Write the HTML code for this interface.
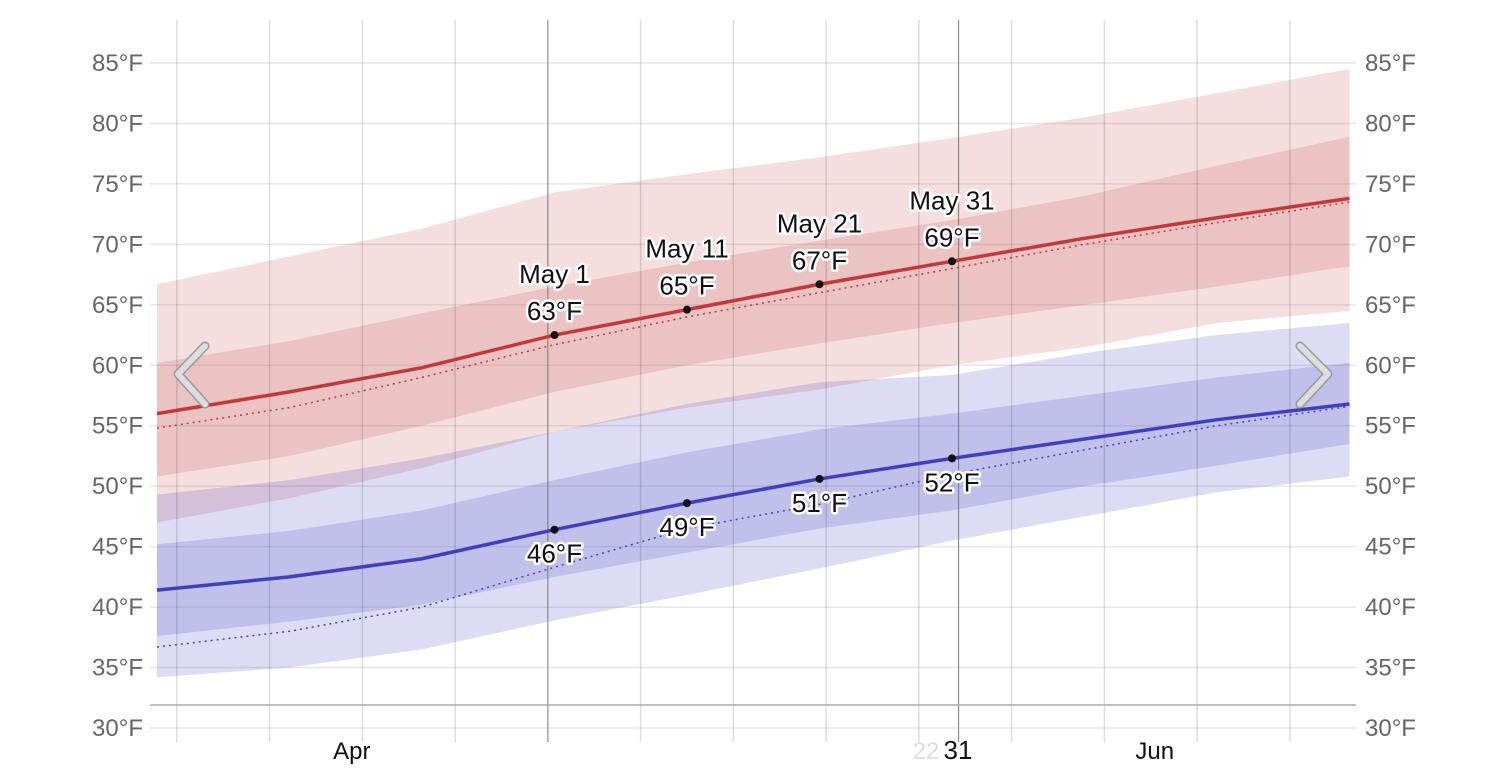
<!DOCTYPE html>
<html><head><meta charset="utf-8"><style>
html,body{margin:0;padding:0;background:#fff;}
svg{display:block;font-family:"Liberation Sans",sans-serif;}
.yl{font-size:24px;fill:#666;}
.ann{font-size:26px;fill:#111;stroke:#fff;stroke-width:5px;paint-order:stroke;stroke-linejoin:round;}
</style></head><body>
<svg id="chart" width="1506" height="774"></svg>
<script>
const days = [0,10,20,30,40,50,60,70,80,90];
const highAvg = [56,57.8,59.8,62.5,64.6,66.7,68.6,70.5,72.2,73.8];
const highP75 = [60.2,62,64.3,66.5,68.5,70.3,72,74,76.5,78.9];
const highP25 = [50.8,52.5,55,57.8,60,61.8,63.5,65,66.5,68.2];
const highP90 = [66.7,69,71.3,74.3,75.8,77.2,78.8,80.5,82.5,84.5];
const highP10 = [47,49,51.5,54.5,56.5,58,60,61.5,63.5,64.5];
const highPrev = [54.8,56.5,59,61.7,64,66,68,70,71.8,73.5];
const lowAvg = [41.4,42.5,44,46.4,48.6,50.6,52.3,53.9,55.5,56.8];
const lowP75 = [45.2,46.3,48,50.5,52.8,54.7,56,57.5,59,60.2];
const lowP25 = [37.6,38.8,40.2,42.5,44.5,46.5,48,50,51.7,53.5];
const lowP90 = [49.3,50.5,52.3,54.5,56.8,58.6,59.2,61,62.5,63.5];
const lowP10 = [34.2,35,36.5,38.9,41,43.2,45.5,47.5,49.5,50.8];
const lowPrev = [36.7,38,40,43.3,46.5,48.5,51,53,55,56.6];
const yTicks = [30,35,40,45,50,55,60,65,70,75,80,85];
const annDays = [30,40,50,60];
const annLabels = ["May 1","May 11","May 21","May 31"];
const annHigh = [63,65,67,69];
const annLow = [46,49,51,52];
const gridDays = [1.5,8.5,15.5,22.5,29.5,36.5,43.5,50.5,57.5,60.5,64.5,71.5,78.5,85.5];
const monthLabels = ["Apr","Jun"];
const monthLabelDays = [14.7,75.3];

const NS="http://www.w3.org/2000/svg";
const svg=document.getElementById('chart');
const x=d=>157+13.25*d;
const y=t=>63+(85-t)*665/55;
function mk(tag,attrs,parent){const e=document.createElementNS(NS,tag);for(const k in attrs)e.setAttribute(k,attrs[k]);(parent||svg).appendChild(e);return e;}
function pts(arr){return arr.map((v,i)=>x(days[i])+','+y(v));}
function band(up,lo,fill,name){const p=pts(up).concat(pts(lo).reverse());const e=mk('polygon',{points:p.join(' '),fill:fill});

}
function line(arr,color,w,dash,name){const e=mk('polyline',{points:pts(arr).join(' '),fill:'none',stroke:color,'stroke-width':w});if(dash)e.setAttribute('stroke-dasharray',dash);

}
yTicks.forEach(t=>{const g=mk('line',{x1:150,x2:1356,y1:y(t),y2:y(t),stroke:'#e6e6e6','stroke-width':1.5});

});
band(highP90,highP10,'rgba(200,70,70,0.18)','high-band-10-90');
band(highP75,highP25,'rgba(200,70,70,0.18)','high-band-25-75');
band(lowP90,lowP10,'rgba(80,80,200,0.2)','low-band-10-90');
band(lowP75,lowP25,'rgba(80,80,200,0.2)','low-band-25-75');
gridDays.forEach(d=>{const dark=(d===29.5||d===60.5);const g=mk('line',{x1:x(d),x2:x(d),y1:20,y2:742,stroke:dark?'#777':'rgba(0,0,0,0.13)','stroke-width':dark?1:1.5});

});
const ax=mk('line',{x1:150,x2:1356,y1:705,y2:705,stroke:'#aaa','stroke-width':1.5});


line(highPrev,'#c0393b',1.5,'2 4','high-prev-year');
line(lowPrev,'#4444bb',1.5,'2 4','low-prev-year');
line(highAvg,'#c0393b',3.5,null,'high-average-line');
line(lowAvg,'#4040bb',3.5,null,'low-average-line');
yTicks.forEach(t=>{[143,1365].forEach((xx,j)=>{const e=mk('text',{x:xx,y:y(t)+8,class:'yl','text-anchor':j?'start':'end'});e.textContent=t+'°F';

});});
monthLabels.forEach((m,i)=>{const e=mk('text',{x:x(monthLabelDays[i]),y:759,'text-anchor':'middle','font-size':24,fill:'#111'});e.textContent=m;

});
const g22=mk('text',{x:926,y:759,'text-anchor':'middle','font-size':24,fill:'#ddd'});g22.textContent='22';


const l31=mk('text',{x:958,y:759,'text-anchor':'middle','font-size':26,fill:'#111'});l31.textContent='31';


annDays.forEach((d,i)=>{
 const hv=highAvg[days.indexOf(d)], lv=lowAvg[days.indexOf(d)];
 const cx=x(d);
 const c1=mk('circle',{cx:cx,cy:y(hv),r:4,fill:'#111'});
 
 
 const c2=mk('circle',{cx:cx,cy:y(lv),r:4,fill:'#111'});
 
 
 const t1=mk('text',{x:cx,y:y(hv)-52,class:'ann','text-anchor':'middle'});t1.textContent=annLabels[i];
 
 
 const t2=mk('text',{x:cx,y:y(hv)-15,class:'ann','text-anchor':'middle'});t2.textContent=annHigh[i]+'°F';
 
 
 const t3=mk('text',{x:cx,y:y(lv)+33,class:'ann','text-anchor':'middle'});t3.textContent=annLow[i]+'°F';
 
 
});
const la=mk('polyline',{points:'205,346 178,374 205,404',fill:'none',stroke:'#999','stroke-width':9,'stroke-linecap':'round','stroke-linejoin':'round'});


const la2=mk('polyline',{points:'205,346 178,374 205,404',fill:'none',stroke:'#ddd','stroke-width':6,'stroke-linecap':'round','stroke-linejoin':'round'});


const ra=mk('polyline',{points:'1300,346 1328,374 1300,404',fill:'none',stroke:'#999','stroke-width':9,'stroke-linecap':'round','stroke-linejoin':'round'});


const ra2=mk('polyline',{points:'1300,346 1328,374 1300,404',fill:'none',stroke:'#ddd','stroke-width':6,'stroke-linecap':'round','stroke-linejoin':'round'});


</script>
</body></html>
